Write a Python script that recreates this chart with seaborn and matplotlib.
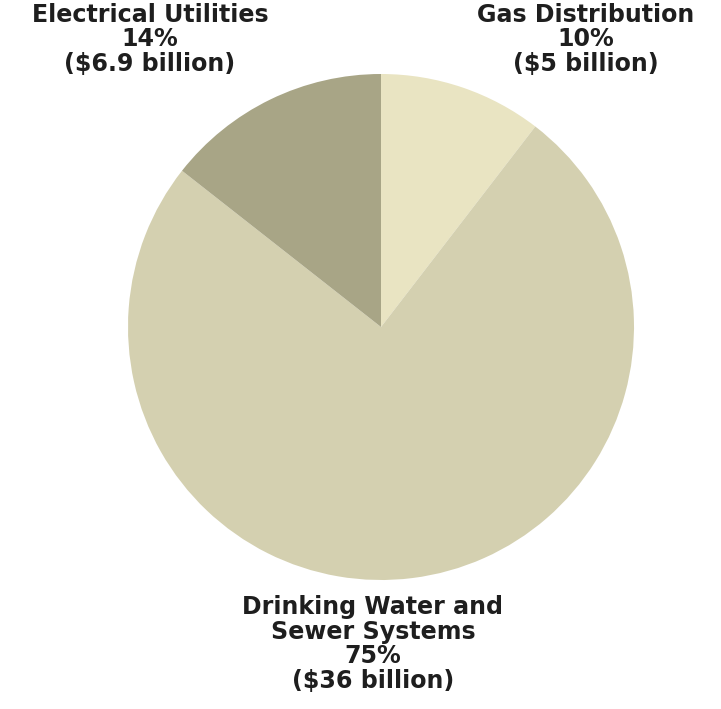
import matplotlib
matplotlib.use("Agg")
import matplotlib.pyplot as plt
import seaborn as sns

categories = ["Gas Distribution", "Drinking Water and\nSewer Systems", "Electrical Utilities"]
billions = [5.0, 36.0, 6.9]
percents = ["10%", "75%", "14%"]
amounts = ["($5 billion)", "($36 billion)", "($6.9 billion)"]
colors = ["#e9e4c2", "#d4d0b0", "#a8a586"]

sns.set_theme(style="white")
plt.rcParams["font.family"] = ["DejaVu Sans"]

W, H = 721, 709
fig = plt.figure(figsize=(W / 100, H / 100), dpi=100)
ax = fig.add_axes([0, 0, 1, 1])
fig.patch.set_facecolor("white")

cx, cy, r = 381, 327, 253
ax.pie(billions, colors=colors, startangle=90, counterclock=False,
       wedgeprops=dict(linewidth=0))
ax.set_aspect("auto")
ax.set_xlim(-cx / r, (W - cx) / r)
ax.set_ylim(-(H - cy) / r, cy / r)
ax.axis("off")

tc = "#1e1e1e"
renderer = fig.canvas.get_renderer()

def measure(text, size):
    t = fig.text(0, 0, text, fontsize=size, fontweight="bold")
    bb = t.get_window_extent(renderer)
    t.remove()
    return bb.width, bb.height

def size_for(text, target_w, max_h):
    w, h = measure(text, 10)
    return min(10 * target_w / w, 10 * max_h / h)

def group(lines, x, ys, size):
    for t, y in zip(lines, ys):
        fig.text(x / W, 1 - y / H, t, ha="center", va="center", fontsize=size,
                 fontweight="bold", color=tc)

top_ys = [15, 39.5, 64]
bot_ys = [607, 631.5, 656, 680.5]
top_size = size_for(categories[2], 266, 24.0)
bot_size = size_for(categories[1].split("\n")[0], 284, 24.0)

group([categories[2], percents[2], amounts[2]], 150, top_ys, top_size)
group([categories[0], percents[0], amounts[0]], 586, top_ys, top_size)
group(categories[1].split("\n") + [percents[1], amounts[1]], 373, bot_ys, bot_size)

fig.savefig("out.png", dpi=100, facecolor="white")
